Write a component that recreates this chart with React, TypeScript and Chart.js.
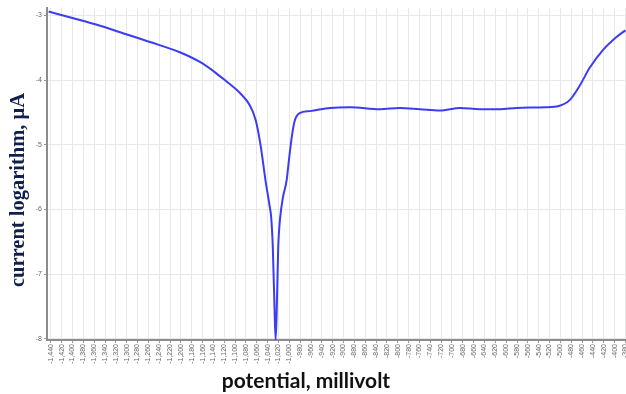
import React, { useEffect, useRef } from "react";
import { Chart, registerables } from "chart.js";

Chart.register(...registerables);

const potentials = [
  -1444, -1400, -1349, -1312, -1257, -1202, -1165, -1137, -1119, -1091, -1073, -1062,
  -1053, -1044, -1036.5, -1033.5, -1030.5, -1027.4, -1025.3, -1023.4, -1020.5, -1017.4,
  -1011.9, -1005, -1000.8, -995, -989.8, -981, -962, -925, -888, -833, -796, -759,
  -722, -685, -649, -612, -581, -528, -503, -483, -464, -446, -422, -396, -380,
];
const logCurrent = [
  -2.94, -3.04, -3.16, -3.26, -3.41, -3.57, -3.72, -3.88, -4.0, -4.2, -4.39, -4.62,
  -5.01, -5.55, -5.94, -6.12, -6.58, -7.51, -8.02, -7.61, -6.58, -6.17,
  -5.82, -5.55, -5.24, -4.85, -4.62, -4.51, -4.48, -4.43, -4.42, -4.45, -4.43, -4.45,
  -4.47, -4.43, -4.45, -4.45, -4.43, -4.42, -4.4, -4.31, -4.08, -3.81, -3.54, -3.33, -3.23,
];
const xTicks: number[] = [];
for (let v = -1440; v <= -380; v += 20) xTicks.push(v);
const yTicks = [-8, -7, -6, -5, -4, -3];
const xTitle = "potential, millivolt";
const yTitle = "current logarithm, μA";

const titlePlugin = {
  id: "axisTitles",
  afterDraw(chart: any) {
    const ctx = chart.ctx;
    ctx.save();
    ctx.textAlign = "center";
    ctx.textBaseline = "middle";
    ctx.fillStyle = "#111";
    ctx.font = "bold 21px Lato";
    ctx.fillText(xTitle, 306, 381);
    ctx.translate(19, 190);
    ctx.rotate(-Math.PI / 2);
    ctx.fillStyle = "#10204a";
    ctx.font = "bold 20.5px 'Liberation Serif'";
    ctx.fillText(yTitle, 0, 0);
    ctx.restore();
  },
};

export default function App() {
  const ref = useRef<HTMLCanvasElement>(null);
  useEffect(() => {
    document.body.style.margin = "0";
    const chart = new Chart(ref.current!, {
      type: "line",
      data: {
        datasets: [
          {
            data: potentials.map((x, i) => ({ x, y: logCurrent[i] })),
            borderColor: "#3c3cf5",
            borderWidth: 2,
            pointRadius: 0,
            cubicInterpolationMode: "monotone",
            fill: false,
          },
        ],
      },
      plugins: [titlePlugin],
      options: {
        animation: false,
        responsive: false,
        layout: { padding: { top: 8, right: 0, left: 0, bottom: 0 } },
        plugins: { legend: { display: false }, tooltip: { enabled: false } },
        scales: {
          x: {
            type: "linear",
            min: -1447,
            max: -379,
            afterBuildTicks: (s: any) => {
              s.ticks = xTicks.map((v) => ({ value: v }));
            },
            afterFit: (s: any) => {
              s.height = 54;
              s.paddingLeft = 0;
              s.paddingRight = 0;
            },
            grid: { color: "#e8e8e8", lineWidth: 1, tickLength: 3, tickColor: "#999" },
            border: { color: "#8c8c8c", width: 2 },
            ticks: {
              autoSkip: false,
              minRotation: 90,
              maxRotation: 90,
              padding: 1,
              color: "#666",
              font: { family: "Liberation Sans", size: 7 },
              callback: (v: any) => Number(v).toLocaleString("en-US"),
            },
            title: { display: false },
          },
          y: {
            min: -8.02,
            max: -2.885,
            afterBuildTicks: (s: any) => {
              s.ticks = yTicks.map((v) => ({ value: v }));
            },
            afterFit: (s: any) => {
              s.width = 47;
              s.paddingTop = 0;
              s.paddingBottom = 0;
            },
            grid: { color: "#e8e8e8", lineWidth: 1, tickLength: 3, tickColor: "#999" },
            border: { color: "#8c8c8c", width: 2 },
            ticks: {
              padding: 2,
              color: "#666",
              font: { family: "Liberation Sans", size: 7 },
            },
            title: { display: false },
          },
        },
      },
    });
    return () => chart.destroy();
  }, []);
  return (
    <div style={{ width: 626, height: 394 }}>
      <canvas ref={ref} width={626} height={394} />
    </div>
  );
}
